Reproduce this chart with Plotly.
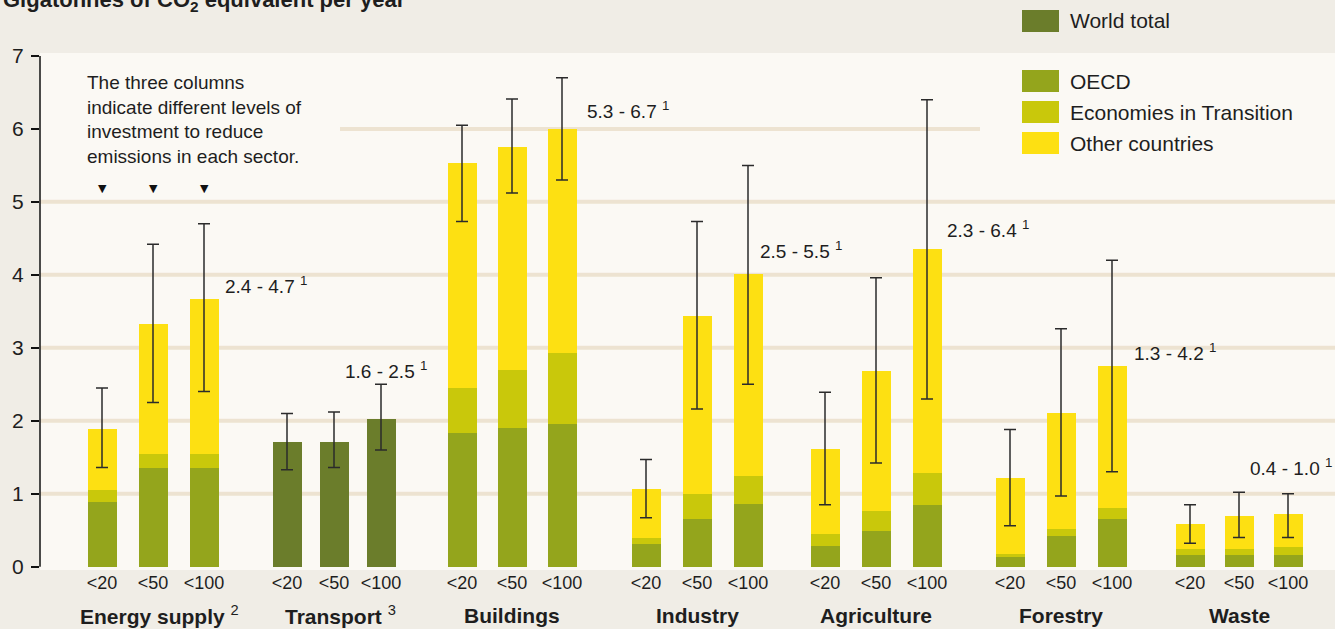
import plotly.graph_objects as go

# ---- data -------------------------------------------------------------
sectors = ["Energy supply", "Transport", "Buildings", "Industry",
           "Agriculture", "Forestry", "Waste"]
sector_notes = ["2", "3", "", "", "", "", ""]
levels = ["<20", "<50", "<100"]

# Gt CO2-eq/yr per carbon-price level (<20, <50, <100 US$/tCO2-eq)
world_total = [None, [1.71, 1.71, 2.03], None, None, None, None, None]
oecd = [[0.89, 1.35, 1.35], None, [1.83, 1.90, 1.96], [0.31, 0.65, 0.86],
        [0.29, 0.49, 0.85], [0.13, 0.42, 0.66], [0.16, 0.16, 0.16]]
eit = [[0.16, 0.20, 0.20], None, [0.62, 0.80, 0.97], [0.09, 0.35, 0.39],
       [0.16, 0.28, 0.43], [0.04, 0.10, 0.15], [0.08, 0.08, 0.11]]
other = [[0.84, 1.77, 2.12], None, [3.08, 3.05, 3.07], [0.67, 2.43, 2.76],
         [1.17, 1.91, 3.07], [1.04, 1.59, 1.94], [0.35, 0.46, 0.45]]

# potential ranges (whiskers)
range_low = [[1.36, 2.25, 2.4], [1.33, 1.36, 1.6], [4.73, 5.12, 5.3],
             [0.67, 2.16, 2.5], [0.85, 1.42, 2.3], [0.56, 0.97, 1.3],
             [0.32, 0.40, 0.4]]
range_high = [[2.45, 4.42, 4.7], [2.10, 2.12, 2.5], [6.05, 6.41, 6.7],
              [1.47, 4.73, 5.5], [2.39, 3.96, 6.4], [1.88, 3.26, 4.2],
              [0.85, 1.02, 1.0]]

y_ticks = [0, 1, 2, 3, 4, 5, 6, 7]

# ---- layout constants -------------------------------------------------
W, H = 1335, 629
ML, MR, MT, MB = 40, 0, 53, 59
FONT = "Liberation Sans, Arial, sans-serif"
TXT = "#1e1e1e"

C_WORLD = "#6b7d2b"
C_OECD = "#94a51c"
C_EIT = "#c9c80b"
C_OTHER = "#fde012"
GRID = "#ede3d1"

group_center = [153, 334, 512, 697, 876, 1061, 1239]
group_pitch = [51, 47, 50, 51, 51, 51, 49]
bar_width = 29
# left edge / vertical centre (px) of the range label beside each group
range_label_pos = [(223, 285), (343, 370), (585, 110), (758, 250),
                   (945, 229), (1132, 352), (1248, 467)]


def px_x(px):
    return (px - ML) / (W - ML - MR)


def px_y(py):
    return (H - MB - py) / (H - MT - MB)


xs = []
for c, p in zip(group_center, group_pitch):
    xs.append([c - p, c, c + p])


def flat(values):
    out = []
    for g in range(len(sectors)):
        vals = values[g]
        for j in range(3):
            out.append(None if vals is None else vals[j])
    return out


x_flat = [x for grp in xs for x in grp]

fig = go.Figure()
for name, vals, col in [("World total", world_total, C_WORLD),
                        ("OECD", oecd, C_OECD),
                        ("Economies in Transition", eit, C_EIT),
                        ("Other countries", other, C_OTHER)]:
    fig.add_trace(go.Bar(x=x_flat, y=flat(vals), width=bar_width,
                         marker=dict(color=col, line=dict(width=0)),
                         name=name, showlegend=False))

lo = flat(range_low)
hi = flat(range_high)
mid = [(a + b) / 2 for a, b in zip(lo, hi)]
half = [(b - a) / 2 for a, b in zip(lo, hi)]
fig.add_trace(go.Scatter(
    x=x_flat, y=mid, mode="markers", marker=dict(size=1, opacity=0),
    error_y=dict(type="data", symmetric=True, array=half,
                 color="#2b2b2b", thickness=1.5, width=6),
    showlegend=False, hoverinfo="skip"))

shapes = []
# horizontal guide lines
for k in [1, 2, 3, 4, 5]:
    shapes.append(dict(type="line", xref="paper", yref="y", x0=0, x1=1,
                       y0=k, y1=k, line=dict(color=GRID, width=4),
                       layer="below"))
shapes.append(dict(type="line", xref="x", yref="y", x0=340, x1=980,
                   y0=6, y1=6, line=dict(color=GRID, width=4), layer="below"))
# value axis line
shapes.append(dict(type="line", xref="paper", yref="y", x0=0, x1=0,
                   y0=0, y1=7, line=dict(color="#111", width=1.5)))

annotations = []
# title (runs off the top edge)
annotations.append(dict(text="<b>Gigatonnes of CO<sub>2</sub> equivalent per year</b>",
                        xref="paper", yref="paper", x=px_x(1), y=px_y(1),
                        xanchor="left", yanchor="middle", showarrow=False,
                        font=dict(family=FONT, size=22, color=TXT)))

# legend
legend_items = [("World total", C_WORLD, 21),
                ("OECD", C_OECD, 81),
                ("Economies in Transition", C_EIT, 112),
                ("Other countries", C_OTHER, 143)]
for label, col, cy in legend_items:
    shapes.append(dict(type="rect", xref="paper", yref="paper",
                       x0=px_x(1022), x1=px_x(1059),
                       y0=px_y(cy - 11), y1=px_y(cy + 11),
                       fillcolor=col, line=dict(width=0)))
    annotations.append(dict(text=label, xref="paper", yref="paper",
                            x=px_x(1068), y=px_y(cy), xanchor="left",
                            yanchor="middle", showarrow=False,
                            font=dict(family=FONT, size=21, color=TXT)))

# explanatory note
annotations.append(dict(
    text="The three columns<br>indicate different levels of<br>"
         "investment to reduce<br>emissions in each sector.",
    xref="paper", yref="paper", x=px_x(85), y=px_y(70), xanchor="left",
    yanchor="top", align="left", showarrow=False,
    font=dict(family=FONT, size=19, color=TXT)))
for x in xs[0]:
    annotations.append(dict(text="▼", xref="paper", yref="paper",
                            x=px_x(x), y=px_y(188), xanchor="center",
                            yanchor="middle", showarrow=False,
                            font=dict(family="DejaVu Sans", size=11, color="#111")))

# range labels for the highest price column
for g in range(len(sectors)):
    lx, ly = range_label_pos[g]
    txt = f"{range_low[g][2]:.1f} - {range_high[g][2]:.1f} <sup>1</sup>"
    annotations.append(dict(text=txt, xref="paper", yref="paper",
                            x=px_x(lx), y=px_y(ly), xanchor="left",
                            yanchor="middle", showarrow=False,
                            font=dict(family=FONT, size=19, color=TXT)))

# sector names
for g, name in enumerate(sectors):
    note = sector_notes[g]
    txt = f"<b>{name}</b>" + (f" <sup>{note}</sup>" if note else "")
    annotations.append(dict(text=txt, xref="paper", yref="paper",
                            x=px_x(group_center[g] + (6 if note else 0)),
                            y=px_y(615), xanchor="center", yanchor="middle",
                            showarrow=False,
                            font=dict(family=FONT, size=21, color=TXT)))

fig.update_layout(
    width=W, height=H, barmode="stack", bargap=0,
    margin=dict(l=ML, r=MR, t=MT, b=MB, pad=0),
    paper_bgcolor="#f0ede6", plot_bgcolor="#fbf9f4",
    shapes=shapes, annotations=annotations, showlegend=False,
    xaxis=dict(range=[ML, W - MR], tickvals=x_flat,
               ticktext=levels * len(sectors), showgrid=False,
               zeroline=False, showline=False, ticks="",
               tickfont=dict(family=FONT, size=18, color=TXT)),
    yaxis=dict(range=[-0.045, 7.04], tickvals=y_ticks, showgrid=False,
               zeroline=False, showline=False, ticks="outside", ticklen=8,
               tickwidth=1.5, tickcolor="#111", ticklabelstandoff=3,
               tickfont=dict(family=FONT, size=21, color=TXT)),
)

fig.write_html("out.html")
